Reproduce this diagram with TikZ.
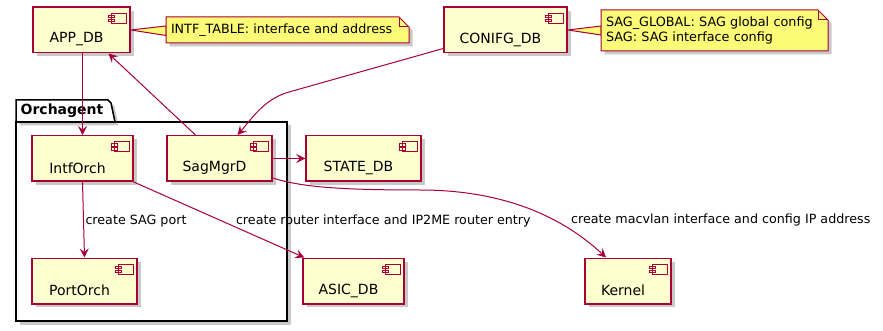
\documentclass[tikz,border=0pt]{standalone}
\usepackage{fontspec}
\setmainfont{DejaVu Sans}
\usetikzlibrary{positioning, arrows.meta, shadows, backgrounds}

\definecolor{plumred}{HTML}{A80036}
\definecolor{compfill}{HTML}{FEFECE}
\definecolor{notefill}{HTML}{FBFB77}

\begin{document}
\begin{tikzpicture}[x=1pt, y=-1pt, font=\fontsize{12.7}{15}\selectfont,
    softshadow/.style={drop shadow={shadow xshift=3.5pt, shadow yshift=-3.5pt, opacity=.3, fill=black!70}},
    compicon/.style={path picture={
        \draw[plumred, fill=compfill, line width=1pt]
            ([shift={(-19,6)}]path picture bounding box.north east) rectangle ++(15,10)
            ([shift={(-22,8)}]path picture bounding box.north east) rectangle ++(6,2.5)
            ([shift={(-22,12)}]path picture bounding box.north east) rectangle ++(6,2.5);
    }},
    comp/.style={draw=plumred, fill=compfill, line width=1.5pt, minimum height=45.5pt,
        inner sep=0pt, softshadow, compicon,
        label={[anchor=base, xshift=-5pt, yshift=-9.5pt, font=\fontsize{14}{16}\selectfont]center:#1}},
    notetext/.style={inner xsep=5pt, inner ysep=0pt, outer sep=0pt, align=left},
    notebox/.style={fill=notefill, draw=plumred, line width=1pt},
    pkgbody/.style={draw=black, line width=1.5pt, fill=white, inner sep=0pt, outer sep=0pt, softshadow},
    link/.style={plumred, line width=1pt, -{Stealth[length=9pt, width=9pt, inset=3.5pt]}},
    linklabel/.style={inner sep=0pt, anchor=west, text=black}]

    \useasboundingbox (0,0) rectangle (883,331);

    % package Orchagent
    \node[pkgbody, minimum width=271pt, minimum height=199pt] (orch) at (151.5,221.5) {};
    \draw[pkgbody] (orch.north west) -- ++(0,-22) -- ++(92,0) -- ++(3,3) -- ++(4,19) -- cycle;
    \node[anchor=base, font=\fontsize{14}{16}\selectfont\bfseries] (orchname) at (62,115) {Orchagent};

    % databases and components
    \node[comp=APP\_DB,    minimum width=97pt]  (appdb)    at (81.5,30)    {};
    \node[comp=CONIFG\_DB, minimum width=123pt] (cfgdb)    at (505.5,30)   {};
    \node[comp=IntfOrch,   minimum width=101pt] (intforch) at (82.5,158.5) {};
    \node[comp=SagMgrD,    minimum width=105pt] (sagmgrd)  at (219.5,158.5) {};
    \node[comp=STATE\_DB,  minimum width=115pt] (statedb)  at (363.5,158.5) {};
    \node[comp=PortOrch,   minimum width=105pt] (portorch) at (84.5,281)   {};
    \node[comp=ASIC\_DB,   minimum width=101pt] (asicdb)   at (353.5,281)  {};
    \node[comp=Kernel,     minimum width=86pt]  (kernel)   at (628,281)    {};

    % notes
    \node[notetext, text width=233pt, minimum height=26pt] (intfnote) at (287.5,30)
        {INTF\_TABLE: interface and address};
    \node[notetext, text width=217pt, minimum height=41pt, font=\fontsize{12.8}{14.5}\selectfont] (cfgnote) at (714.5,30.5)
        {SAG\_GLOBAL: SAG global config\\SAG: SAG interface config};

    \begin{scope}[on background layer]
        \filldraw[notebox] (appdb.east) -- ([yshift=4pt]intfnote.west) -- ([yshift=-5.5pt]intfnote.west) -- cycle;
        \filldraw[notebox] (cfgdb.east) -- ([yshift=4.5pt]cfgnote.west) -- ([yshift=-4.5pt]cfgnote.west) -- cycle;
        \foreach \n in {intfnote, cfgnote} {
            \filldraw[notebox, softshadow] (\n.north west) -- ([xshift=-10pt]\n.north east)
                -- ([yshift=-10pt]\n.north east) -- (\n.south east) -- (\n.south west) -- cycle;
            \draw[plumred, line width=1pt] ([xshift=-10pt]\n.north east) |- ([yshift=-10pt]\n.north east);
        }
    \end{scope}

    % connectors
    \coordinate (cfgbend) at (289,92);
    \coordinate (kbend)   at (420,190);
    \draw[link] (intforch.north |- appdb.south) -- (intforch.north);
    \draw[link] ([xshift=-24pt]sagmgrd.north) -- ([xshift=27pt]appdb.south);
    \draw[link] ([yshift=5pt]cfgdb.south west) -- (cfgbend)
        .. controls +(-25,7) and +(14,-16) .. ([xshift=18pt]sagmgrd.north);
    \draw[link] (sagmgrd) -- (statedb);
    \draw[link] (intforch.south) -- (portorch.north)
        node[linklabel, midway, xshift=1.5pt, yshift=-1pt] (portlbl) {create SAG port};
    \draw[link] (intforch.south east) -- ([xshift=2pt]asicdb.north west)
        node[linklabel, midway, xshift=16.5pt, yshift=-1pt] (asiclbl) {create router interface and IP2ME router entry};
    \draw[link] ([yshift=4pt]sagmgrd.south east) .. controls +(28,9) and +(-80,0) .. (kbend)
        .. controls +(80,0) and +(-46,-43) .. ([xshift=-22pt]kernel.north)
        node[linklabel, pos=.64, xshift=20pt, yshift=-1.5pt] (kernlbl) {create macvlan interface and config IP address};
\end{tikzpicture}
\end{document}
